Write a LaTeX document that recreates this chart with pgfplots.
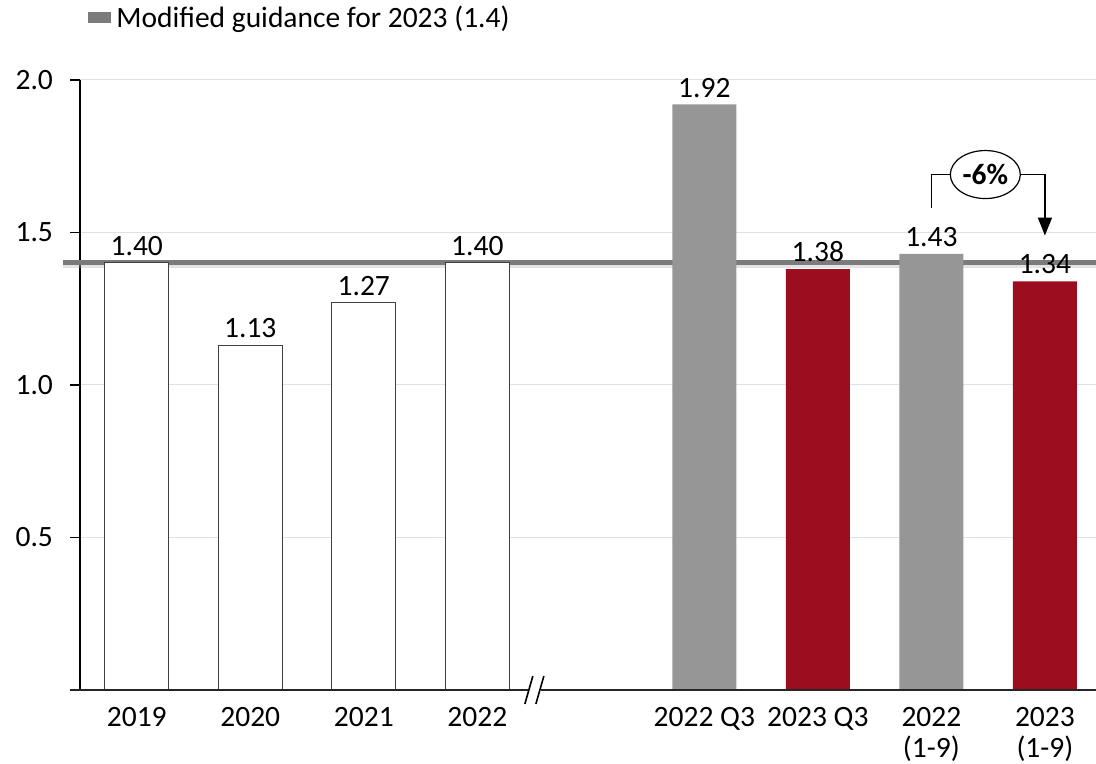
\documentclass[border=0pt]{standalone}
\usepackage{fontspec}
\setmainfont{Carlito}
\usepackage{pgfplots}
\pgfplotsset{compat=1.18}
\usetikzlibrary{shapes.geometric,arrows.meta}
\definecolor{barGray}{HTML}{969696}
\definecolor{barRed}{HTML}{9B0D1F}
\definecolor{guide}{HTML}{7B7B7B}
\definecolor{gridc}{HTML}{DCE1EA}
\newcommand{\lbl}{\fontsize{14.75}{15.5}\selectfont}

\begin{document}
\begin{tikzpicture}
\begin{axis}[
  scale only axis, width=508pt, height=305pt,
  xmin=-0.5, xmax=8.45, ymin=0, ymax=2,
  clip=false,
  axis x line=bottom, axis y line=left,
  axis line style={-},
  x axis line style={draw=none},
  y axis line style={line width=1pt, black},
  xtick={0,1,2,3,5,6,7,8},
  xticklabels={2019,2020,2021,2022,2022 Q3,2023 Q3,{2022\\(1-9)},{2023\\(1-9)}},
  xticklabel style={align=center, font=\lbl},
  x tick style={draw=none},
  ytick={0.5,1,1.5,2},
  tick align=outside, major tick length=5pt,
  y tick style={black, line width=0.6pt},
  yticklabel style={font=\lbl, xshift=-5pt, /pgf/number format/.cd, fixed, fixed zerofill, precision=1},
  /pgf/number format/assume math mode=true,
  ymajorgrids, grid style={gridc, line width=0.5pt},
  bar width=32pt,
  legend style={at={(rel axis cs:0,1)}, anchor=west, xshift=4pt, yshift=31pt,
    draw=none, fill=none, font=\lbl, inner sep=0pt, nodes={inner xsep=2.5pt}},
  legend cell align=left,
  legend image code/.code={\fill[guide] (0pt,-1.5pt) rectangle (9pt,1.5pt);},
  every node near coord/.append style={font=\lbl, black},
  nodes near coords={\pgfmathprintnumber[fixed, fixed zerofill, precision=2, assume math mode=true]{\pgfplotspointmeta}},
]
% frame corners for the page size
\coordinate (AL) at (rel axis cs:0,0);
\coordinate (AR) at (rel axis cs:1,1);

% soft shadow under the guidance line
\addplot[forget plot, no markers, nodes near coords={}, draw=black!30, line width=1.5pt, opacity=0.35, yshift=-2pt]
  coordinates {(-0.65,1.4) (8.45,1.4)};
% modified guidance for 2023
\addplot[no markers, nodes near coords={}, draw=guide, line width=2.5pt]
  coordinates {(-0.65,1.4) (8.45,1.4)};
\addlegendentry{Modified guidance for 2023 (1.4)}

% annual values
\addplot[forget plot, ybar, bar shift=0pt, fill=white, draw=black!75, line width=0.5pt]
  coordinates {(0,1.40) (1,1.13) (2,1.27) (3,1.40)};
% 2022 periods
\addplot[forget plot, ybar, bar shift=0pt, fill=barGray, draw=none]
  coordinates {(5,1.92) (7,1.43)};
% 2023 periods
\addplot[forget plot, ybar, bar shift=0pt, fill=barRed, draw=none]
  coordinates {(6,1.38) (8,1.34)};

% x axis line with break
\draw[line width=0.8pt, black!85] ([xshift=-5pt]rel axis cs:0,0) -- (rel axis cs:1,0);
\fill[white] ([xshift=-0.5pt,yshift=-2pt]axis cs:3.454,0) rectangle ([xshift=0.5pt,yshift=2pt]axis cs:3.551,0);
\draw[line width=0.8pt] ([shift={(2pt,7pt)}]axis cs:3.454,0) -- ([shift={(-2pt,-7pt)}]axis cs:3.454,0);
\draw[line width=0.8pt] ([shift={(2pt,7pt)}]axis cs:3.551,0) -- ([shift={(-2pt,-7pt)}]axis cs:3.551,0);

% change between the 1-9 periods
\node[ellipse, draw, line width=0.6pt, minimum width=34pt, minimum height=24pt, inner sep=1pt,
  font=\lbl\bfseries] (pct) at (axis cs:7.475,1.69) {-6\%};
\draw[line width=0.8pt] (axis cs:7,1.58) |- (pct.west);
\draw[line width=0.8pt, -{Triangle[width=7pt,length=9pt]}] (pct.east) -| (axis cs:8,1.49);
\end{axis}
\pgfresetboundingbox
\path ([shift={(-40pt,-37pt)}]AL) rectangle ([shift={(0pt,40pt)}]AR);
\end{tikzpicture}
\end{document}
